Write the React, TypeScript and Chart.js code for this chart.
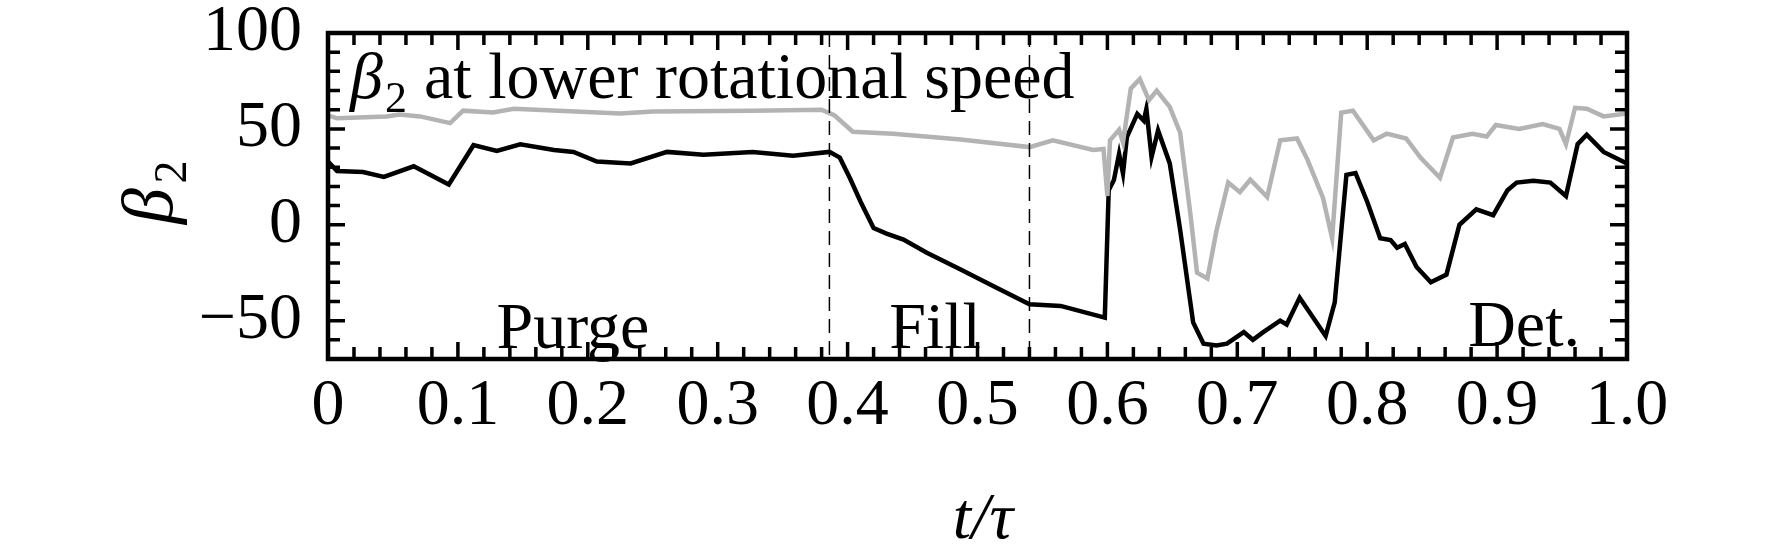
import React, { useRef, useEffect } from "react";
import { Chart, registerables } from "chart.js";

Chart.register(...registerables);

// t/tau samples and beta_2 values
const blackT = [0, 0.007, 0.027, 0.043, 0.066, 0.093, 0.112, 0.13, 0.148, 0.174, 0.189, 0.207, 0.233, 0.261, 0.289, 0.327, 0.358, 0.386, 0.394, 0.402, 0.41, 0.42, 0.43, 0.443, 0.461, 0.487, 0.512, 0.54, 0.564, 0.598, 0.601, 0.605, 0.609, 0.612, 0.615, 0.623, 0.628, 0.63, 0.634, 0.639, 0.648, 0.656, 0.666, 0.674, 0.684, 0.692, 0.705, 0.712, 0.72, 0.733, 0.738, 0.748, 0.768, 0.775, 0.784, 0.791, 0.8, 0.81, 0.818, 0.823, 0.829, 0.838, 0.849, 0.861, 0.871, 0.884, 0.897, 0.908, 0.915, 0.928, 0.941, 0.953, 0.962, 0.969, 0.982, 1.0];
const blackV = [33, 28, 27.5, 25, 30.5, 21, 41.5, 38.5, 42, 39, 38, 33, 32, 38, 36.5, 38, 36, 38, 35, 24, 12, -1.7, -4.6, -7.7, -14.6, -23.3, -31.9, -41.4, -42.3, -48.4, 18, 23.3, 37, 26.8, 45.7, 57.8, 54.3, 60.4, 35.3, 49.2, 32, -2.6, -50.9, -62, -63, -62, -56, -60, -56, -50, -52, -38, -58, -40.5, 26, 27, 12, -7, -8, -12, -10, -22, -30, -26, 0, 8, 5, 18, 22, 23, 22, 15, 42, 47, 38, 32];

const grayT = [0, 0.007, 0.045, 0.055, 0.071, 0.094, 0.104, 0.127, 0.143, 0.225, 0.25, 0.327, 0.38, 0.39, 0.404, 0.435, 0.487, 0.54, 0.558, 0.589, 0.597, 0.6, 0.602, 0.609, 0.612, 0.618, 0.625, 0.632, 0.638, 0.648, 0.656, 0.664, 0.669, 0.677, 0.684, 0.693, 0.702, 0.71, 0.723, 0.733, 0.746, 0.754, 0.766, 0.773, 0.78, 0.789, 0.805, 0.815, 0.83, 0.841, 0.856, 0.866, 0.881, 0.892, 0.899, 0.917, 0.935, 0.948, 0.953, 0.96, 0.969, 0.982, 1.0];
const grayV = [57, 55.5, 56.5, 57.5, 56.5, 53, 59.5, 58.5, 60.5, 58, 59, 59.5, 60, 57, 48.5, 47.5, 44.5, 40.5, 44, 39, 39.5, 15, 44, 49.5, 43, 71, 76, 65, 70, 61.5, 48, 5, -25, -28, -3, 22, 17, 23.5, 14.5, 44, 45, 34, 14, -7, 58.5, 59.5, 44, 47.5, 45, 35, 24.5, 45.5, 47.5, 46, 52, 50, 52.5, 50, 42, 61, 60.5, 56.5, 58];

const xTickLabels = ["0", "0.1", "0.2", "0.3", "0.4", "0.5", "0.6", "0.7", "0.8", "0.9", "1.0"];
const yTickValues = [-50, 0, 50, 100];
const phaseBounds = [0.386, 0.54];

const SERIF = '"Liberation Serif", "DejaVu Serif", serif';

const framePlugin = {
  id: "frame",
  afterDatasetsDraw(chart: any) {
    const { ctx, chartArea: a, scales } = chart;
    const xs = scales.x;
    const ys = scales.y;
    ctx.save();
    // phase boundaries
    ctx.strokeStyle = "#000";
    ctx.lineWidth = 1.5;
    ctx.setLineDash([14, 8]);
    phaseBounds.forEach((t) => {
      const px = xs.getPixelForValue(t);
      ctx.beginPath();
      ctx.moveTo(px, a.top);
      ctx.lineTo(px, a.bottom);
      ctx.stroke();
    });
    ctx.setLineDash([]);
    // ticks
    ctx.lineWidth = 3.5;
    for (let i = 0; i <= 50; i++) {
      const px = xs.getPixelForValue(i * 0.02);
      const len = i % 5 === 0 ? 17 : 12;
      ctx.beginPath();
      ctx.moveTo(px, a.top);
      ctx.lineTo(px, a.top + len);
      ctx.moveTo(px, a.bottom);
      ctx.lineTo(px, a.bottom - len);
      ctx.stroke();
    }
    for (let v = -60; v <= 90; v += 10) {
      const py = ys.getPixelForValue(v);
      const len = v % 50 === 0 ? 17 : 12;
      ctx.beginPath();
      ctx.moveTo(a.left, py);
      ctx.lineTo(a.left + len, py);
      ctx.moveTo(a.right, py);
      ctx.lineTo(a.right - len, py);
      ctx.stroke();
    }
    ctx.lineWidth = 4.5;
    ctx.strokeRect(a.left, a.top, a.right - a.left, a.bottom - a.top);
    // tick labels
    ctx.fillStyle = "#000";
    ctx.font = `66px ${SERIF}`;
    ctx.textAlign = "center";
    ctx.textBaseline = "middle";
    xTickLabels.forEach((s, i) => ctx.fillText(s, xs.getPixelForValue(i / 10), 407));
    ctx.textAlign = "right";
    yTickValues.forEach((v) => ctx.fillText(v < 0 ? "\u2212" + Math.abs(v) : String(v), 302, ys.getPixelForValue(v)));
    // phase labels
    ctx.textBaseline = "alphabetic";
    ctx.textAlign = "center";
    ctx.fillText("Purge", 573, 348);
    ctx.fillText("Fill", 935, 348);
    ctx.textAlign = "right";
    ctx.fillText("Det.", 1580, 346);
    // annotation
    ctx.textAlign = "left";
    ctx.font = `italic 66px ${SERIF}`;
    ctx.fillText("\u03b2", 350, 98);
    ctx.font = `44px ${SERIF}`;
    ctx.fillText("2", 385, 112);
    ctx.font = `66px ${SERIF}`;
    ctx.fillText("at lower rotational speed", 424, 98);
    // axis titles
    ctx.textAlign = "center";
    ctx.font = `italic 66px ${SERIF}`;
    ctx.fillText("t/\u03c4", 983, 538);
    ctx.translate(172, 196);
    ctx.rotate(-Math.PI / 2);
    ctx.font = `italic 72px ${SERIF}`;
    ctx.fillText("\u03b2", -10, 0);
    ctx.font = `46px ${SERIF}`;
    ctx.fillText("2", 24, 14);
    ctx.restore();
  },
};

const App: React.FC = () => {
  const ref = useRef<HTMLCanvasElement | null>(null);

  useEffect(() => {
    document.body.style.margin = "0";
    if (!ref.current) return;
    const chart = new Chart(ref.current, {
      type: "line",
      data: {
        datasets: [
          {
            label: "gray",
            data: grayT.map((t, i) => ({ x: t, y: grayV[i] })),
            borderColor: "#b3b3b3",
            borderWidth: 4.5,
            pointRadius: 0,
            tension: 0,
          },
          {
            label: "black",
            data: blackT.map((t, i) => ({ x: t, y: blackV[i] })),
            borderColor: "#000",
            borderWidth: 4.5,
            pointRadius: 0,
            tension: 0,
          },
        ],
      },
      options: {
        responsive: false,
        animation: false,
        layout: { padding: { left: 328, right: 145, top: 33, bottom: 193 } },
        plugins: { legend: { display: false }, tooltip: { enabled: false } },
        scales: {
          x: { type: "linear", min: 0, max: 1, display: false },
          y: { min: -70, max: 100, display: false },
        },
      },
      plugins: [framePlugin],
    });
    return () => chart.destroy();
  }, []);

  return <canvas ref={ref} width={1772} height={552} style={{ display: "block" }} />;
};

export default App;
